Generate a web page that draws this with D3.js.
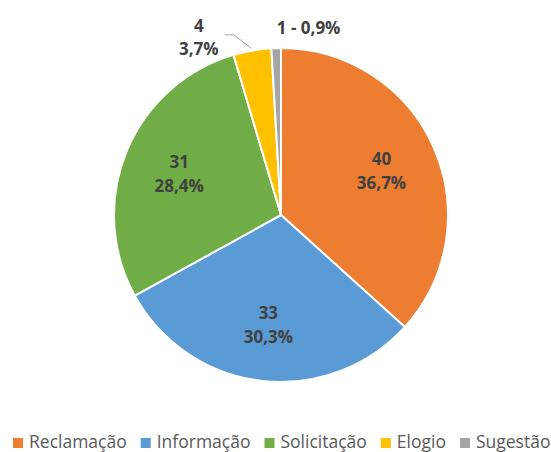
<!DOCTYPE html>
<html>
<head>
<meta charset="utf-8">
<script src="https://cdn.jsdelivr.net/npm/d3@7"></script>
<style>
  body { margin: 0; background: #fff; }
  text { font-family: "Open Sans", sans-serif; }
</style>
</head>
<body>
<div id="chart"></div>
<script>
var categories = ["Reclamação", "Informação", "Solicitação", "Elogio", "Sugestão"];
var values = [40, 33, 31, 4, 1];
var percents = ["36,7%", "30,3%", "28,4%", "3,7%", "0,9%"];
var colors = ["#ED7D31", "#5B9BD5", "#70AD47", "#FFC000", "#A5A5A5"];

var width = 551;
var height = 452;
var cx = 281, cy = 215, radius = 167;

var svg = d3.select("#chart")
  .append("svg")
  .attr("width", width)
  .attr("height", height);

var data = categories.map(function(c, i) {
  return {name: c, value: values[i], pct: percents[i], color: colors[i]};
});

var pie = d3.pie()
  .sort(null)
  .value(function(d) { return d.value; });

var arcs = pie(data);

var arc = d3.arc().innerRadius(0).outerRadius(radius);
var labelArc = d3.arc().innerRadius(110).outerRadius(110);
var edgeArc = d3.arc().innerRadius(radius).outerRadius(radius);
var outerArc = d3.arc().innerRadius(radius + 20).outerRadius(radius + 20);

var g = svg.append("g")
  .attr("transform", `translate(${cx},${cy})`);

g.selectAll("path")
  .data(arcs)
  .enter()
  .append("path")
    .attr("d", arc)
    .attr("fill", function(d) { return d.data.color; })
    .attr("stroke", "#fff")
    .attr("stroke-width", 2);

// inside labels for the big slices
var inside = arcs.filter(function(d) { return d.data.value > 10; });
inside.forEach(function(d) {
  var c = labelArc.centroid(d);
  var t = g.append("text")
    .attr("text-anchor", "middle")
    .attr("fill", "#404040")
    .attr("font-size", 17)
    .attr("font-weight", "bold");
  t.append("tspan").attr("x", c[0]).attr("y", c[1] - 5).text(d.data.value);
  t.append("tspan").attr("x", c[0]).attr("y", c[1] + 19).text(d.data.pct);
});

// Elogio: label outside with leader line
var el = arcs[3];
var elEdge = edgeArc.centroid(el);
var elOut = outerArc.centroid(el);
g.append("polyline")
  .attr("points", [
    [elEdge[0] - 1, elEdge[1] - 2],
    [elOut[0] - 15, elOut[1] + 4],
    [elOut[0] - 24, elOut[1] + 4]
  ].map(function(p) { return p.join(","); }).join(" "))
  .attr("fill", "none")
  .attr("stroke", "#A6A6A6")
  .attr("stroke-width", 1);
var elT = g.append("text")
  .attr("text-anchor", "middle")
  .attr("fill", "#404040")
  .attr("font-size", 17)
  .attr("font-weight", "bold");
elT.append("tspan").attr("x", elOut[0] - 50).attr("y", elOut[1] + 1).text(el.data.value);
elT.append("tspan").attr("x", elOut[0] - 50).attr("y", elOut[1] + 24).text(el.data.pct);

// Sugestão: single-line outside label
var su = arcs[4];
var suOut = outerArc.centroid(su);
g.append("text")
  .attr("x", suOut[0] + 33)
  .attr("y", suOut[1] + 6)
  .attr("text-anchor", "middle")
  .attr("fill", "#404040")
  .attr("font-size", 17)
  .attr("font-weight", "bold")
  .text(su.data.value + " - " + su.data.pct);

// legend
var legend = svg.append("g").attr("transform", "translate(13,448)");
var xPos = 0;
data.forEach(function(d) {
  var item = legend.append("g").attr("transform", `translate(${xPos},0)`);
  item.append("rect")
    .attr("x", 0).attr("y", -10)
    .attr("width", 10).attr("height", 10)
    .attr("fill", d.color);
  var t = item.append("text")
    .attr("x", 16).attr("y", 0)
    .attr("fill", "#595959")
    .attr("font-size", 17.5)
    .text(d.name);
  xPos += 16 + t.node().getComputedTextLength() + 14;
});
</script>
</body>
</html>
